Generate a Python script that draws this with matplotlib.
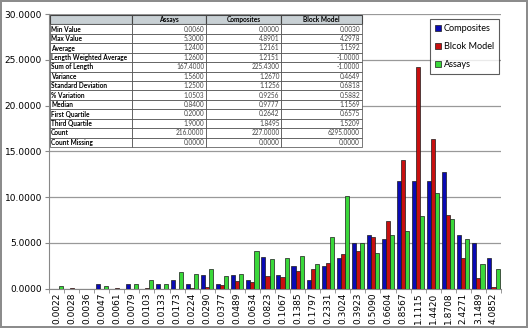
import numpy as np
import matplotlib
matplotlib.use("Agg")
from matplotlib import pyplot as plt

bins = ["0.0022", "0.0028", "0.0036", "0.0047", "0.0061", "0.0079", "0.0103",
        "0.0133", "0.0173", "0.0224", "0.0290", "0.0377", "0.0489", "0.0634",
        "0.0823", "0.1067", "0.1385", "0.1797", "0.2331", "0.3024", "0.3923",
        "0.5090", "0.6604", "0.8567", "1.1115", "1.4420", "1.8708", "2.4271",
        "3.1489", "4.0852"]

composites = [0, 0, 0, 0.55, 0, 0.55, 0, 0.55, 1.0, 0.55, 1.5, 0.55, 1.5, 1.0,
              3.45, 1.5, 2.5, 1.0, 2.5, 3.4, 5.0, 5.9, 5.4, 11.8, 11.8, 11.8,
              12.7, 5.9, 5.0, 3.4]
block_model = [0, 0.05, 0, 0, 0.05, 0, 0.05, 0, 0, 0.1, 0.2, 0.4, 0.85, 0.7,
               1.35, 1.25, 1.9, 2.1, 2.8, 3.8, 4.1, 5.6, 7.4, 14.1, 24.2, 16.4,
               8.0, 3.3, 1.2, 0.15]
assays = [0.3, 0, 0, 0.3, 0, 0.5, 0.95, 0.5, 1.8, 1.6, 2.1, 1.4, 1.6, 4.1,
          3.2, 3.4, 3.6, 2.7, 5.65, 10.1, 5.0, 3.9, 5.9, 6.3, 7.9, 10.4, 7.6,
          5.4, 2.7, 2.1]

stat_names = ["Min Value", "Max Value", "Average", "Length Weighted Average",
              "Sum of Length", "Variance", "Standard Deviation", "% Variation",
              "Median", "First Quartile", "Third Quartile", "Count",
              "Count Missing"]
stat_assays = [0.0060, 5.3000, 1.2400, 1.2600, 167.4000, 1.5600, 1.2500,
               1.0503, 0.8400, 0.2000, 1.9000, 216.0000, 0.0000]
stat_comp = [0.0000, 4.8901, 1.2161, 1.2151, 225.4300, 1.2670, 1.1256,
             0.9256, 0.9777, 0.2642, 1.8495, 227.0000, 0.0000]
stat_block = [0.0030, 4.2978, 1.1592, -1.0000, -1.0000, 0.4649, 0.6818,
              0.5882, 1.1569, 0.6575, 1.5209, 6295.0000, 0.0000]

W, H = 528, 328
fig = plt.figure(figsize=(W / 100, H / 100), dpi=100)
fig.patch.set_edgecolor("#8c8c8c")
fig.patch.set_linewidth(1.5)

ax = fig.add_axes([49 / W, (H - 288.7) / H, 452 / W, 274.7 / H])
x = np.arange(len(bins))
bw = 0.27
kw = dict(edgecolor="#1a1a1a", linewidth=0.5, zorder=3)
ax.bar(x - bw, composites, bw, color="#0a0ab4", label="Composites", **kw)
ax.bar(x, block_model, bw, color="#c81010", label="Blcok Model", **kw)
ax.bar(x + bw, assays, bw, color="#3ad83a", label="Assays", **kw)

ax.set_xlim(-0.5, len(bins) - 0.5)
ax.set_ylim(0, 30)
ax.set_yticks(np.arange(0, 31, 5))
ax.set_yticklabels([f"{v:.4f}" for v in np.arange(0, 31, 5)], fontsize=6.5)
ax.set_xticks(x)
ax.set_xticklabels(bins, rotation=90, fontsize=6.5)
ax.tick_params(axis="x", length=0, pad=3)
ax.set_xticks(np.arange(-0.5, len(bins)), minor=True)
ax.tick_params(axis="x", which="minor", length=3, color="#888888")
ax.tick_params(axis="y", length=3, color="#888888", pad=2)
ax.grid(axis="y", color="#999999", linewidth=0.9, zorder=0)
for s in ["top", "right"]:
    ax.spines[s].set_visible(False)
for s in ["left", "bottom"]:
    ax.spines[s].set_color("#888888")

leg = ax.legend(loc="upper right", bbox_to_anchor=(0.996, 0.982),
                prop={"family": "Lato", "size": 6.6}, frameon=True,
                fancybox=False, edgecolor="#333333", handlelength=0.7,
                handleheight=0.7, handletextpad=0.3, labelspacing=1.0,
                borderpad=0.55, borderaxespad=0)
leg.get_frame().set_linewidth(0.8)
leg.set_zorder(5)

# stats table
rows = [["", "Assays", "Composites", "Block Model"]]
for n, a, c, b in zip(stat_names, stat_assays, stat_comp, stat_block):
    rows.append([n, f"{a:.4f}", f"{c:.4f}", f"{b:.4f}"])
col_w = [81.7, 74, 75.3, 80.7]
tab = ax.table(cellText=rows, colWidths=[w / sum(col_w) for w in col_w],
               bbox=[1 / 452, (288.7 - 147) / 274.7, 311.7 / 452, 132 / 274.7],
               zorder=4)
tab.auto_set_font_size(False)
for (r, c), cell in tab.get_celld().items():
    cell.set_linewidth(0.5)
    cell.set_edgecolor("#444444")
    t = cell.get_text()
    t.set_fontsize(4.7)
    t.set_fontfamily("Lato")
    if r == 0:
        cell.set_facecolor("#c8d0d4")
        t.set_fontweight("bold")
        t.set_ha("center")
    elif c == 0:
        cell.set_facecolor("white")
        t.set_fontweight("bold")
        t.set_ha("left")
        cell.PAD = 0.015
    else:
        cell.set_facecolor("white")
        t.set_ha("right")
        t.set_color("#444444")
        cell.PAD = 0.02
for c in range(4):
    tab[0, c].set_linewidth(0.8)

fig.savefig("out.png", dpi=100)
